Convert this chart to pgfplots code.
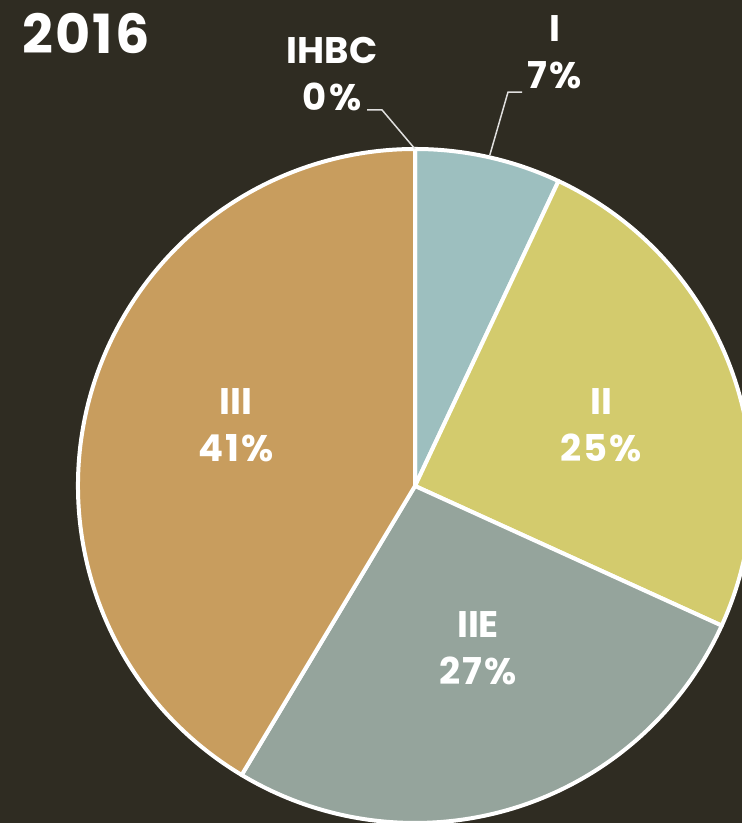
\documentclass[border=0pt]{standalone}
\usepackage{pgfplots}
\usepackage{pgfplotstable}
\pgfplotsset{compat=1.18}
\usepackage{fontspec}
\setmainfont{Poppins}[BoldFont={* Bold}]

\definecolor{bg}{HTML}{2F2C22}
\definecolor{cI}{HTML}{9DBFBF}
\definecolor{cII}{HTML}{D3CB6D}
\definecolor{cIIE}{HTML}{95A49C}
\definecolor{cIII}{HTML}{C89D5E}

% share of each category, 2016
\pgfplotstableread{
name value col
IHBC 0    cI
I    7.0  cI
II   24.8 cII
IIE  26.8 cIIE
III  41.4 cIII
}\piedata

\newcommand\pieR{168.5pt}

% start/end angles, clockwise from the top
\gdef\cumA{0}
\pgfplotstableforeachcolumnelement{value}\of\piedata\as\v{%
  \pgfmathsetmacro\a{90-3.6*\cumA}%
  \pgfmathsetmacro\b{90-3.6*(\cumA+\v)}%
  \expandafter\xdef\csname pa\pgfplotstablerow\endcsname{\a}%
  \expandafter\xdef\csname pb\pgfplotstablerow\endcsname{\b}%
  \pgfplotstablegetelem{\pgfplotstablerow}{col}\of\piedata
  \expandafter\xdef\csname pc\pgfplotstablerow\endcsname{\pgfplotsretval}%
  \pgfmathsetmacro\c{\cumA+\v}\xdef\cumA{\c}%
}

\newcommand\pct[1]{{\addfontfeature{LetterSpace=6}#1}}

\begin{document}
\begin{tikzpicture}
\useasboundingbox (0,0) rectangle (371pt,411.5pt);
\clip (0,0) rectangle (371pt,411.5pt);
\fill[bg] (0,0) rectangle (371pt,411.5pt);
\begin{axis}[
    at={(0,0)}, anchor=south west,
    scale only axis,
    width=371pt, height=411.5pt,
    xmin=-1.2315, xmax=0.9703,
    ymin=-1.0, ymax=1.4421,
    hide axis,
    clip=true,
]
\pgfplotsinvokeforeach{0,...,4}{
  \fill[color=\csname pc#1\endcsname, draw=white, line width=2pt, line join=round]
    (axis cs:0,0) -- ++(\csname pa#1\endcsname:\pieR)
    arc[start angle=\csname pa#1\endcsname, end angle=\csname pb#1\endcsname, radius=\pieR] -- cycle;
}
\tikzset{lbl/.style={text=white, font=\bfseries\fontsize{18.5}{23.5}\selectfont, align=center}}
\node[lbl] at (axis cs:-0.531,0.181) {III\\\pct{41\%}};
\node[lbl] at (axis cs:0.552,0.181) {II\\\pct{25\%}};
\node[lbl] at (axis cs:0.187,-0.481) {IIE\\\pct{27\%}};
\node[lbl] at (axis cs:-0.246,1.223) {IHBC\\\pct{0\%}};
\node[lbl] at (axis cs:0.415,1.288) {I\\\pct{7\%}};
\node[text=white, font=\bfseries\fontsize{27}{30}\selectfont] at (axis cs:-0.976,1.344) {\addfontfeature{LetterSpace=4}2016};
\draw[white!85!bg, line width=0.75pt] (axis cs:0,1) -- (axis cs:-0.098,1.116) -- (axis cs:-0.142,1.116);
\draw[white!85!bg, line width=0.75pt] (axis cs:0.222,0.982) -- (axis cs:0.276,1.169) -- (axis cs:0.318,1.169);
\end{axis}
\end{tikzpicture}
\end{document}
